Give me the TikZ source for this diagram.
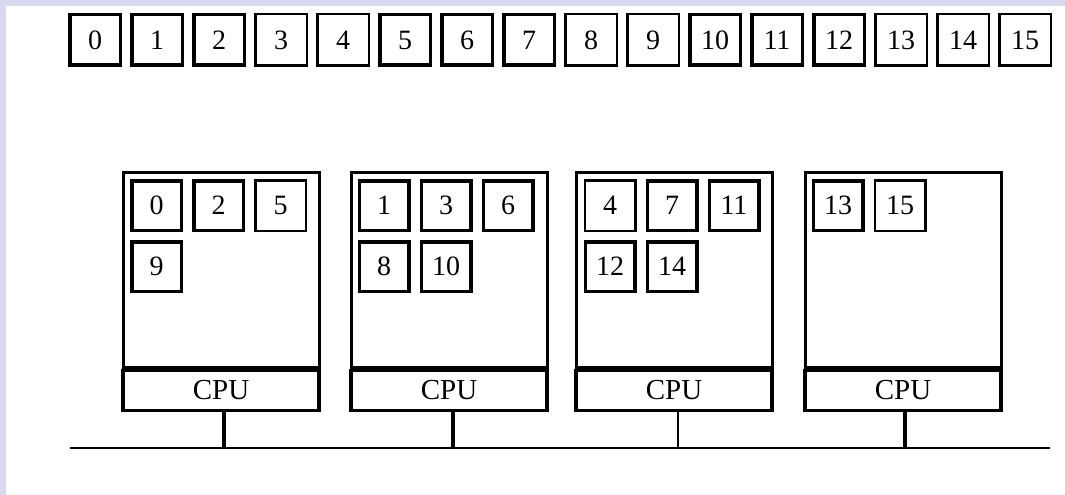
\documentclass[tikz,border=0pt]{standalone}
\usepackage{fontspec}
\setmainfont{Liberation Serif}
\definecolor{lav}{HTML}{D8D8EE}
\begin{document}
\begin{tikzpicture}[x=1pt,y=-1pt,
  numfont/.style={font=\fontsize{28}{28}\selectfont},
  cell/.style={draw, line width=3.5pt, minimum width=50.5pt, minimum height=50.5pt, inner sep=0pt, numfont},
  lcell/.style={cell, line width=2.5pt, minimum width=51.5pt, minimum height=51.5pt},
  icell/.style={draw, line width=3.5pt, minimum width=49.5pt, minimum height=49.5pt, inner sep=0pt, numfont},
  licell/.style={icell, line width=2.5pt, minimum width=50.5pt, minimum height=50.5pt},
  mem/.style={draw, line width=3pt, minimum width=196pt, minimum height=195pt, inner sep=0pt, anchor=north west},
  cpu/.style={draw, line width=3.5pt, minimum width=196pt, minimum height=40pt, inner sep=0pt, anchor=north,
              font=\fontsize{29}{29}\selectfont},
  stem/.style={line width=3.5pt},
  lstem/.style={line width=1.5pt},
  bus/.style={line width=1.8pt}]
% background and margins
\fill[white] (0,0) rectangle (1065,495);
\fill[lav] (0,0) rectangle (1065,6);
\fill[lav] (0,0) rectangle (6,495);
\useasboundingbox (0,0) rectangle (1065,495);

% top row of pages
\foreach \i in {0,1,2,5,6,7,10,11,12} {
  \node[cell] (t\i) at ({95+62*\i},40) {\i};
}
\foreach \i in {3,4,8,9,13,14,15} {
  \node[lcell] (t\i) at ({95+62*\i},40) {\i};
}

% processor blocks
\foreach \k/\x in {1/121.5, 2/349.5, 3/574.5, 4/803.5} {
  \node[mem] (m\k) at (\x,170.5) {};
  \node[cpu] (c\k) at (m\k.south) {CPU};
}

% pages inside block 1
\node[icell]  (a0) at (156.5,205.5) {0};
\node[icell]  (a2) at (218.5,205.5) {2};
\node[licell] (a5) at (280.5,205.5) {5};
\node[icell]  (a9) at (156.5,266.5) {9};
% block 2
\node[icell]  (b1) at (384,205.5) {1};
\node[icell]  (b3) at (446,205.5) {3};
\node[icell]  (b6) at (508,205.5) {6};
\node[icell]  (b8) at (384,266.5) {8};
\node[icell]  (b10) at (446,266.5) {10};
% block 3
\node[licell] (d4) at (610,205.5) {4};
\node[icell]  (d7) at (672,205.5) {7};
\node[icell]  (d11) at (734,205.5) {11};
\node[icell]  (d12) at (610,266.5) {12};
\node[icell]  (d14) at (672,266.5) {14};
% block 4
\node[icell]  (e13) at (838,205.5) {13};
\node[licell] (e15) at (900,205.5) {15};

% bus
\coordinate (busL) at (70,448);
\coordinate (busR) at (1050,448);
\draw[bus] (busL) -- (busR);
\coordinate (s1) at (224,448);
\coordinate (s2) at (453,448);
\coordinate (s3) at (678,448);
\coordinate (s4) at (905,448);
\draw[stem]  (c1.south -| s1) -- (s1);
\draw[stem]  (c2.south -| s2) -- (s2);
\draw[lstem] (c3.south -| s3) -- (s3);
\draw[stem]  (c4.south -| s4) -- (s4);
\end{tikzpicture}
\end{document}
